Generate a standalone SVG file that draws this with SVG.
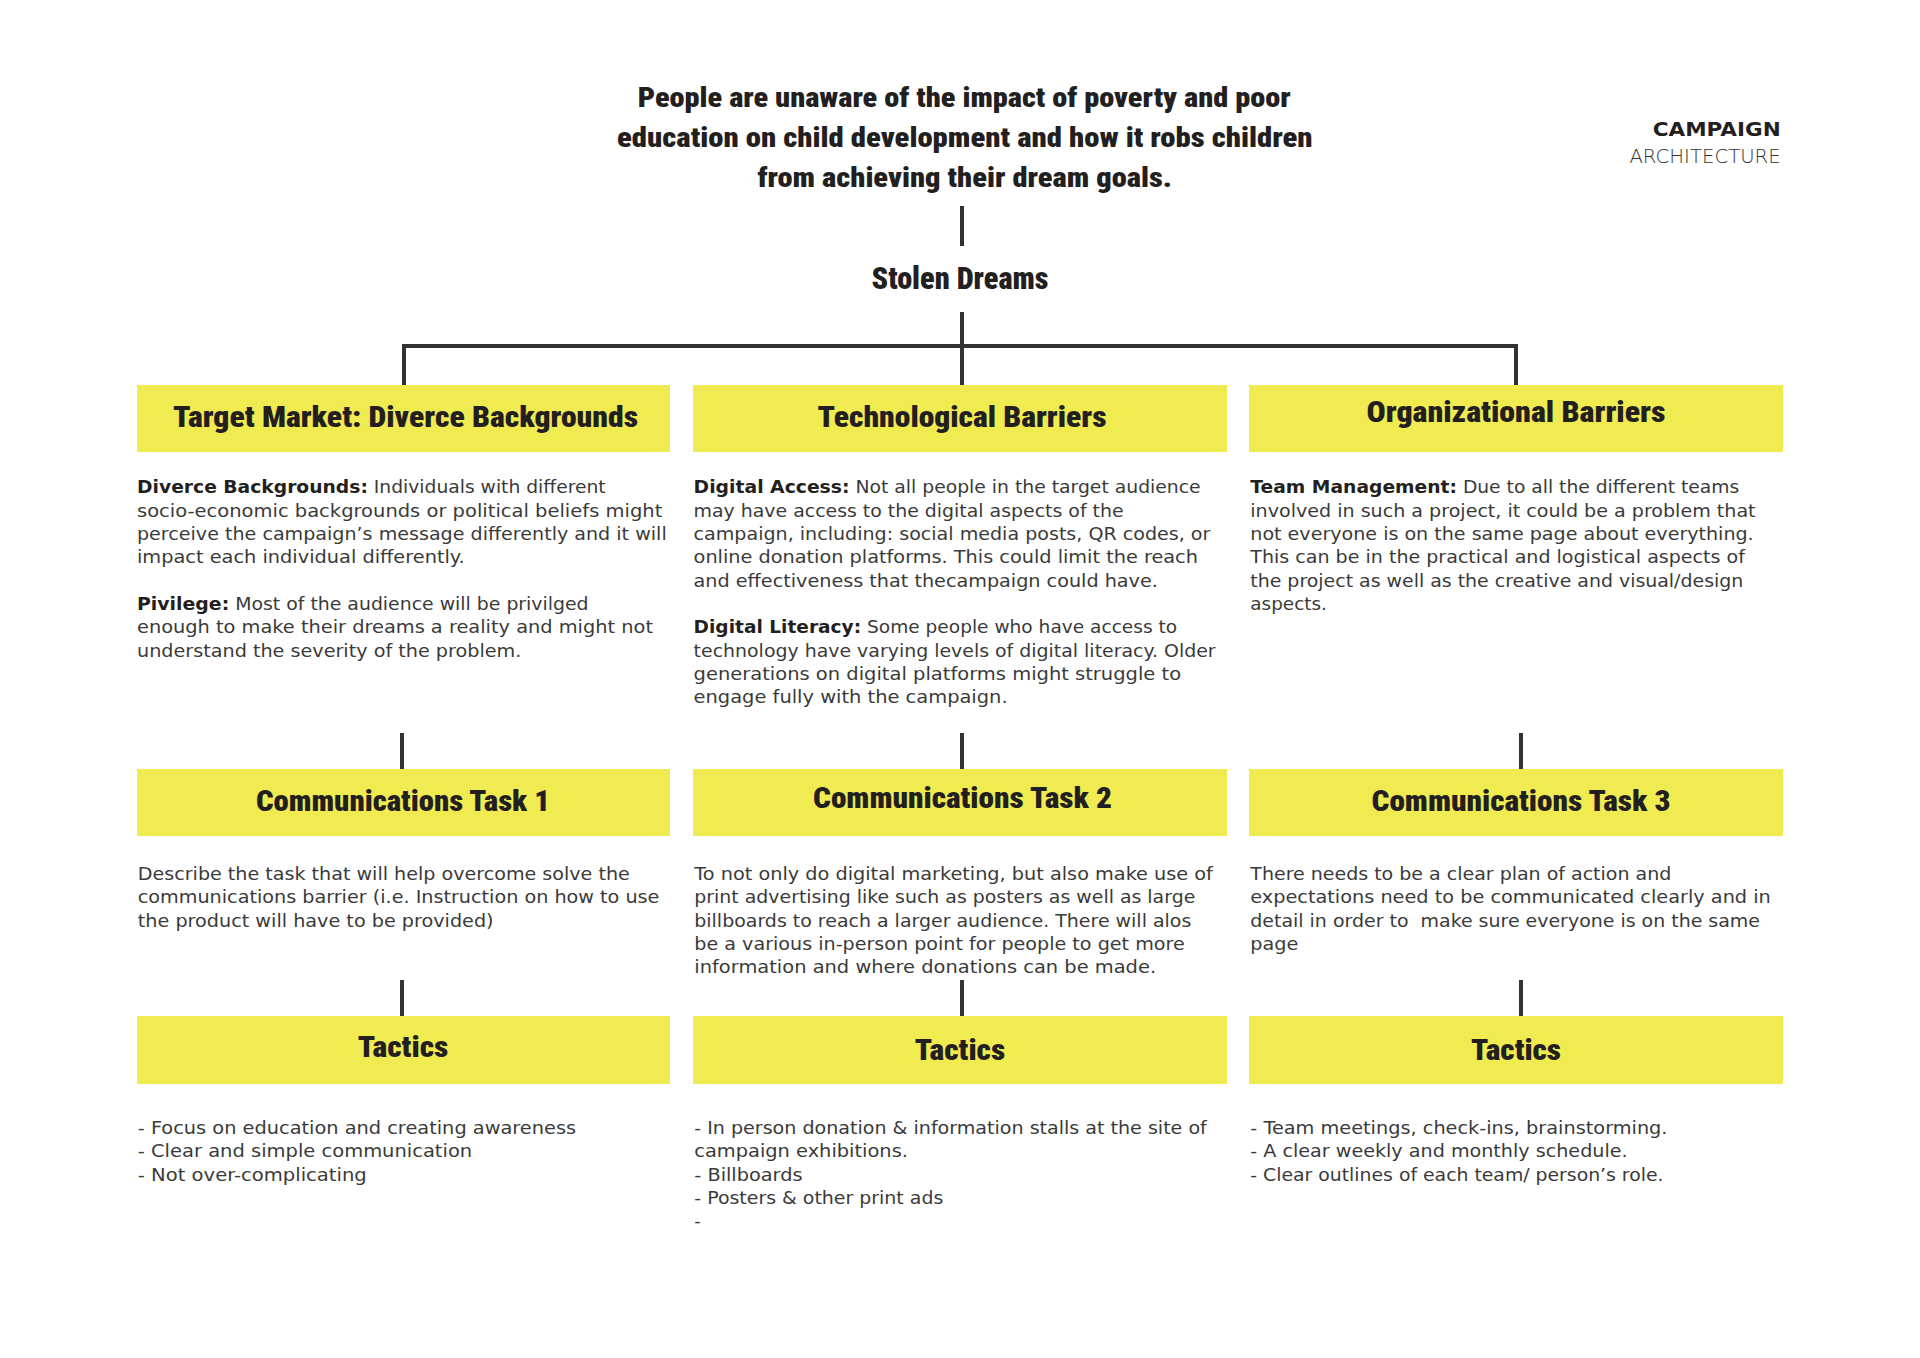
<svg xmlns="http://www.w3.org/2000/svg" width="1920" height="1358" viewBox="0 0 1920 1358">
<style>
.hd{font-family:"Roboto Condensed",Roboto,"Liberation Sans",sans-serif;font-weight:900;fill:#231f20;text-anchor:middle}
.t{font-size:28.5px}
.h{font-size:30px}
.b{font-family:"DejaVu Sans","Liberation Sans",sans-serif;font-size:17.5px;fill:#3a3a3a}
.b tspan.k{font-weight:700;fill:#231f20}
.box{fill:#f1eb52}
.ln{fill:none;stroke:#333;stroke-width:4;stroke-linejoin:miter;stroke-linecap:butt}
.cp{font-family:"DejaVu Sans","Liberation Sans",sans-serif;font-size:19px;fill:#231f20;text-anchor:end}
</style>
<rect width="1920" height="1358" fill="#fff"/>

<g id="connectors">
<line class="ln" x1="962" y1="206" x2="962" y2="246"/>
<line class="ln" x1="962" y1="312" x2="962" y2="385"/>
<polyline class="ln" points="404,385 404,346 1516,346 1516,385"/>
<line class="ln" x1="402" y1="733" x2="402" y2="769"/>
<line class="ln" x1="962" y1="733" x2="962" y2="769"/>
<line class="ln" x1="1521" y1="733" x2="1521" y2="769"/>
<line class="ln" x1="402" y1="980" x2="402" y2="1016"/>
<line class="ln" x1="962" y1="980" x2="962" y2="1016"/>
<line class="ln" x1="1521" y1="980" x2="1521" y2="1016"/>
</g>

<g id="problem-statement">
<text class="hd t" x="964.2" y="107" textLength="653" lengthAdjust="spacingAndGlyphs">People are unaware of the impact of poverty and poor</text>
<text class="hd t" x="964.8" y="147" textLength="695.6" lengthAdjust="spacingAndGlyphs">education on child development and how it robs children</text>
<text class="hd t" x="964.7" y="186.5" textLength="414.5" lengthAdjust="spacingAndGlyphs">from achieving their dream goals.</text>
</g>

<g id="campaign-name">
<text class="hd" style="font-size:31px" x="960" y="288.5" textLength="177" lengthAdjust="spacingAndGlyphs">Stolen Dreams</text>
</g>

<g id="page-label">
<text class="cp" x="1780.7" y="136" font-weight="700" textLength="128" lengthAdjust="spacingAndGlyphs">CAMPAIGN</text>
<text class="cp" x="1780.7" y="162.7" font-weight="300" style="fill:#333" textLength="151.3" lengthAdjust="spacingAndGlyphs">ARCHITECTURE</text>
</g>

<g id="target-market">
<rect class="box" x="137" y="385" width="533" height="67"/>
<text class="hd h" x="405.5" y="427" textLength="465" lengthAdjust="spacingAndGlyphs">Target Market: Diverce Backgrounds</text>
<text class="b" x="137" y="493.3" textLength="468.7" lengthAdjust="spacingAndGlyphs"><tspan class="k">Diverce Backgrounds:</tspan> Individuals with different</text>
<text class="b" x="137" y="516.7" textLength="525.3" lengthAdjust="spacingAndGlyphs">socio-economic backgrounds or political beliefs might</text>
<text class="b" x="137" y="540" textLength="529.7" lengthAdjust="spacingAndGlyphs">perceive the campaign’s message differently and it will</text>
<text class="b" x="137" y="563.3" textLength="327.7" lengthAdjust="spacingAndGlyphs">impact each individual differently.</text>
<text class="b" x="137" y="610" textLength="451.6" lengthAdjust="spacingAndGlyphs"><tspan class="k">Pivilege:</tspan> Most of the audience will be privilged</text>
<text class="b" x="137" y="633.3" textLength="516" lengthAdjust="spacingAndGlyphs">enough to make their dreams a reality and might not</text>
<text class="b" x="137" y="656.7" textLength="384.3" lengthAdjust="spacingAndGlyphs">understand the severity of the problem.</text>
</g>

<g id="technological-barriers">
<rect class="box" x="693" y="385" width="534" height="67"/>
<text class="hd h" x="962" y="427" textLength="289" lengthAdjust="spacingAndGlyphs">Technological Barriers</text>
<text class="b" x="693.6" y="493.3" textLength="507" lengthAdjust="spacingAndGlyphs"><tspan class="k">Digital Access:</tspan> Not all people in the target audience</text>
<text class="b" x="693.6" y="516.7" textLength="430" lengthAdjust="spacingAndGlyphs">may have access to the digital aspects of the</text>
<text class="b" x="693.6" y="540" textLength="516.8" lengthAdjust="spacingAndGlyphs">campaign, including: social media posts, QR codes, or</text>
<text class="b" x="693.6" y="563.3" textLength="504.3" lengthAdjust="spacingAndGlyphs">online donation platforms. This could limit the reach</text>
<text class="b" x="693.6" y="586.7" textLength="464.3" lengthAdjust="spacingAndGlyphs">and effectiveness that thecampaign could have.</text>
<text class="b" x="693.6" y="633.3" textLength="483.6" lengthAdjust="spacingAndGlyphs"><tspan class="k">Digital Literacy:</tspan> Some people who have access to</text>
<text class="b" x="693.6" y="656.7" textLength="522" lengthAdjust="spacingAndGlyphs">technology have varying levels of digital literacy. Older</text>
<text class="b" x="693.6" y="680" textLength="487.5" lengthAdjust="spacingAndGlyphs">generations on digital platforms might struggle to</text>
<text class="b" x="693.6" y="703.3" textLength="314" lengthAdjust="spacingAndGlyphs">engage fully with the campaign.</text>
</g>

<g id="organizational-barriers">
<rect class="box" x="1249" y="385" width="534" height="67"/>
<text class="hd h" x="1516" y="422" textLength="299" lengthAdjust="spacingAndGlyphs">Organizational Barriers</text>
<text class="b" x="1250.3" y="493.3" textLength="489" lengthAdjust="spacingAndGlyphs"><tspan class="k">Team Management:</tspan> Due to all the different teams</text>
<text class="b" x="1250.3" y="516.7" textLength="505.3" lengthAdjust="spacingAndGlyphs">involved in such a project, it could be a problem that</text>
<text class="b" x="1250.3" y="540" textLength="503.4" lengthAdjust="spacingAndGlyphs">not everyone is on the same page about everything.</text>
<text class="b" x="1250.3" y="563.3" textLength="494.6" lengthAdjust="spacingAndGlyphs">This can be in the practical and logistical aspects of</text>
<text class="b" x="1250.3" y="586.7" textLength="493" lengthAdjust="spacingAndGlyphs">the project as well as the creative and visual/design</text>
<text class="b" x="1250.3" y="610" textLength="76.6" lengthAdjust="spacingAndGlyphs">aspects.</text>
</g>

<g id="comm-task-1">
<rect class="box" x="137" y="769" width="533" height="67"/>
<text class="hd h" x="403" y="811" textLength="294" lengthAdjust="spacingAndGlyphs">Communications Task 1</text>
<text class="b" x="137.8" y="880" textLength="492" lengthAdjust="spacingAndGlyphs">Describe the task that will help overcome solve the</text>
<text class="b" x="137.8" y="903.3" textLength="521.6" lengthAdjust="spacingAndGlyphs">communications barrier (i.e. Instruction on how to use</text>
<text class="b" x="137.8" y="926.7" textLength="355.8" lengthAdjust="spacingAndGlyphs">the product will have to be provided)</text>
</g>

<g id="comm-task-2">
<rect class="box" x="693" y="769" width="534" height="67"/>
<text class="hd h" x="962.5" y="807.5" textLength="299" lengthAdjust="spacingAndGlyphs">Communications Task 2</text>
<text class="b" x="694.3" y="880" textLength="518.6" lengthAdjust="spacingAndGlyphs">To not only do digital marketing, but also make use of</text>
<text class="b" x="694.3" y="903.3" textLength="501" lengthAdjust="spacingAndGlyphs">print advertising like such as posters as well as large</text>
<text class="b" x="694.3" y="926.7" textLength="497" lengthAdjust="spacingAndGlyphs">billboards to reach a larger audience. There will alos</text>
<text class="b" x="694.3" y="950" textLength="490.4" lengthAdjust="spacingAndGlyphs">be a various in-person point for people to get more</text>
<text class="b" x="694.3" y="973.3" textLength="461.8" lengthAdjust="spacingAndGlyphs">information and where donations can be made.</text>
</g>

<g id="comm-task-3">
<rect class="box" x="1249" y="769" width="534" height="67"/>
<text class="hd h" x="1521" y="811" textLength="299" lengthAdjust="spacingAndGlyphs">Communications Task 3</text>
<text class="b" x="1250.3" y="880" textLength="421" lengthAdjust="spacingAndGlyphs">There needs to be a clear plan of action and</text>
<text class="b" x="1250.3" y="903.3" textLength="520.5" lengthAdjust="spacingAndGlyphs">expectations need to be communicated clearly and in</text>
<text class="b" x="1250.3" y="926.7" textLength="509.7" lengthAdjust="spacingAndGlyphs" xml:space="preserve">detail in order to  make sure everyone is on the same</text>
<text class="b" x="1250.3" y="950" textLength="48" lengthAdjust="spacingAndGlyphs">page</text>
</g>

<g id="tactics-1">
<rect class="box" x="137" y="1016" width="533" height="68"/>
<text class="hd h" x="403" y="1056.5" textLength="90.7" lengthAdjust="spacingAndGlyphs">Tactics</text>
<text class="b" x="137.8" y="1134" textLength="438.3" lengthAdjust="spacingAndGlyphs">- Focus on education and creating awareness</text>
<text class="b" x="137.8" y="1157.3" textLength="334.4" lengthAdjust="spacingAndGlyphs">- Clear and simple communication</text>
<text class="b" x="137.8" y="1180.7" textLength="229" lengthAdjust="spacingAndGlyphs">- Not over-complicating</text>
</g>

<g id="tactics-2">
<rect class="box" x="693" y="1016" width="534" height="68"/>
<text class="hd h" x="960" y="1059.5" textLength="90.4" lengthAdjust="spacingAndGlyphs">Tactics</text>
<text class="b" x="694.3" y="1134" textLength="512.5" lengthAdjust="spacingAndGlyphs">- In person donation &amp; information stalls at the site of</text>
<text class="b" x="694.3" y="1157.3" textLength="213.6" lengthAdjust="spacingAndGlyphs">campaign exhibitions.</text>
<text class="b" x="694.3" y="1180.7" textLength="108.2" lengthAdjust="spacingAndGlyphs">- Billboards</text>
<text class="b" x="694.3" y="1204" textLength="249" lengthAdjust="spacingAndGlyphs">- Posters &amp; other print ads</text>
<text class="b" x="694.3" y="1227.3">-</text>
</g>

<g id="tactics-3">
<rect class="box" x="1249" y="1016" width="534" height="68"/>
<text class="hd h" x="1516" y="1059.5" textLength="90" lengthAdjust="spacingAndGlyphs">Tactics</text>
<text class="b" x="1250.3" y="1134" textLength="417.2" lengthAdjust="spacingAndGlyphs">- Team meetings, check-ins, brainstorming.</text>
<text class="b" x="1250.3" y="1157.3" textLength="377.3" lengthAdjust="spacingAndGlyphs">- A clear weekly and monthly schedule.</text>
<text class="b" x="1250.3" y="1180.7" textLength="413.2" lengthAdjust="spacingAndGlyphs">- Clear outlines of each team/ person’s role.</text>
</g>
</svg>
